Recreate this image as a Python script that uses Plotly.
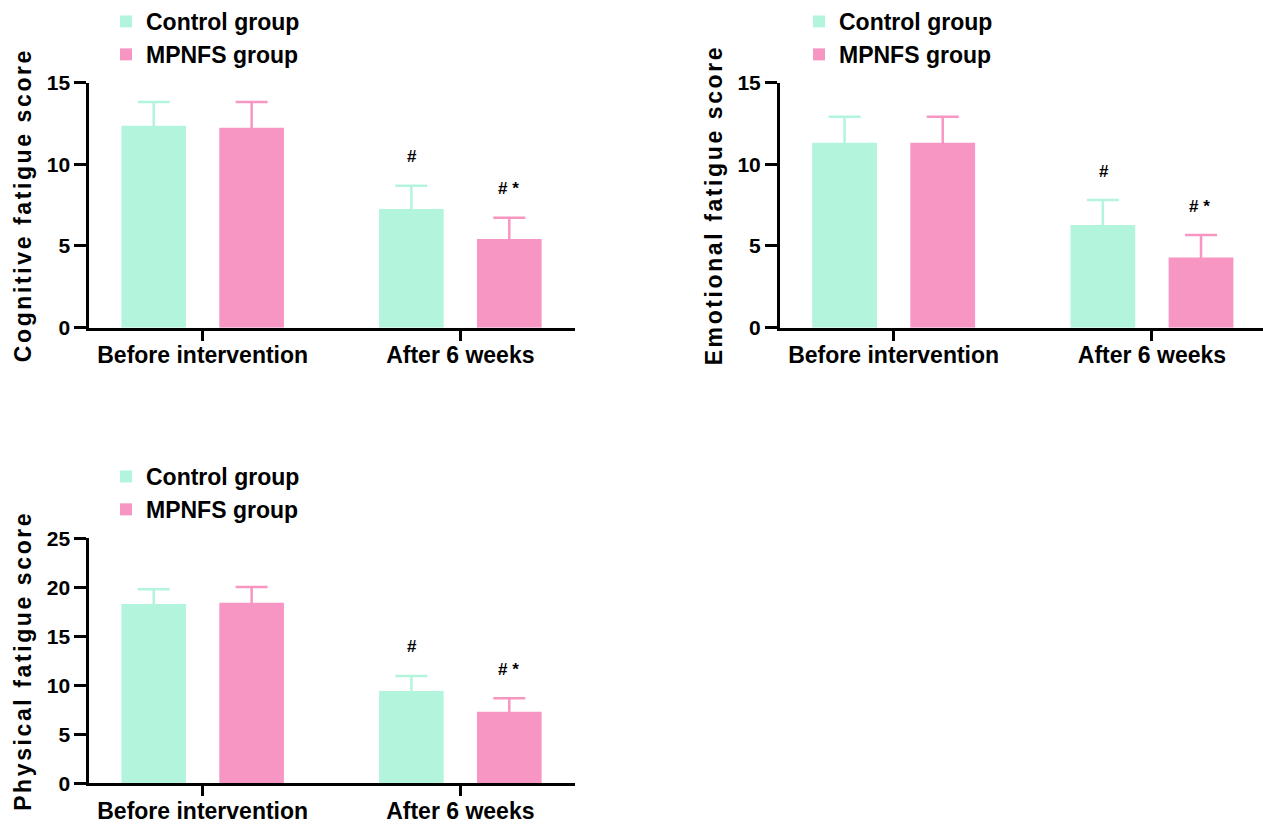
import plotly.graph_objects as go

categories = ["Before intervention", "After 6 weeks"]
groups = ["Control group", "MPNFS group"]

cognitive_control = [12.35, 7.26]
cognitive_control_sd = [1.46, 1.42]
cognitive_mpnfs = [12.23, 5.42]
cognitive_mpnfs_sd = [1.58, 1.30]

emotional_control = [11.31, 6.28]
emotional_control_sd = [1.59, 1.53]
emotional_mpnfs = [11.31, 4.30]
emotional_mpnfs_sd = [1.59, 1.37]

physical_control = [18.30, 9.42]
physical_control_sd = [1.50, 1.53]
physical_mpnfs = [18.43, 7.31]
physical_mpnfs_sd = [1.60, 1.36]

sig_control = ["", "#"]
sig_mpnfs = ["", "# *"]

y_titles = ["Cognitive fatigue score", "Emotional fatigue score", "Physical fatigue score"]
y_ranges = [[0, 15], [0, 15], [0, 25]]

C_COLOR = "#b3f5dc"
M_COLOR = "#f796c3"
FONT = "Liberation Sans, Arial, sans-serif"

panels = [
    (cognitive_control, cognitive_control_sd, cognitive_mpnfs, cognitive_mpnfs_sd),
    (emotional_control, emotional_control_sd, emotional_mpnfs, emotional_mpnfs_sd),
    (physical_control, physical_control_sd, physical_mpnfs, physical_mpnfs_sd),
]

W, H = 1263, 825
x_domains = [[89.3 / W, 575 / W], [780 / W, 1.0], [89.3 / W, 575 / W]]
x_ranges = [[-0.44, 1.445], [-0.44, 1.43], [-0.44, 1.445]]
y_domains = [[1 - 327.7 / H, 1 - 82.5 / H], [1 - 327.7 / H, 1 - 82.5 / H], [1 - 783.3 / H, 1 - 538.3 / H]]
legend_pos = [(106 / W, 1.0), (799 / W, 1.0), (106 / W, 1 - 455 / H)]
# error bars start slightly inside the bar so the lower cap is hidden in the bar
hidden_minus = [0.15, 0.15]

fig = go.Figure()
annotations = []
layout_extra = {}
for i, (cv, cs, mv, ms) in enumerate(panels):
    n = i + 1
    xa = "x" if n == 1 else f"x{n}"
    ya = "y" if n == 1 else f"y{n}"
    lg = "legend" if n == 1 else f"legend{n}"
    fig.add_trace(go.Bar(
        x=categories, y=cv, name=groups[0], xaxis=xa, yaxis=ya, legend=lg,
        marker=dict(color=C_COLOR, line=dict(width=0)),
        error_y=dict(type="data", array=cs, symmetric=False, arrayminus=hidden_minus,
                     color=C_COLOR, thickness=2.5, width=16),
        offsetgroup="c",
    ))
    fig.add_trace(go.Bar(
        x=categories, y=mv, name=groups[1], xaxis=xa, yaxis=ya, legend=lg,
        marker=dict(color=M_COLOR, line=dict(width=0)),
        error_y=dict(type="data", array=ms, symmetric=False, arrayminus=hidden_minus,
                     color=M_COLOR, thickness=2.5, width=16),
        offsetgroup="m",
    ))
    axis_common = dict(
        showline=True, linecolor="black", linewidth=3,
        ticks="outside", tickwidth=3, ticklen=12, tickcolor="black",
        showgrid=False, zeroline=False, automargin=False,
        tickfont=dict(family=FONT, size=21, color="black", weight="bold"),
    )
    layout_extra["xaxis" if n == 1 else f"xaxis{n}"] = dict(
        axis_common, domain=x_domains[i], anchor=ya, range=x_ranges[i], ticklen=10,
        ticklabelstandoff=-5,
        type="category", tickfont=dict(family=FONT, size=23, color="black", weight="bold"),
    )
    layout_extra["yaxis" if n == 1 else f"yaxis{n}"] = dict(
        axis_common, domain=y_domains[i], anchor=xa, range=y_ranges[i], dtick=5,
        title=dict(text=f'<span style="letter-spacing:2.6px">{y_titles[i]}</span>',
                   font=dict(family=FONT, size=23, color="black", weight="bold"), standoff=9),
    )
    layout_extra[lg] = dict(
        x=legend_pos[i][0], y=legend_pos[i][1], xanchor="left", yanchor="top",
        font=dict(family=FONT, size=23, color="black", weight="bold"),
        bgcolor="rgba(0,0,0,0)", itemwidth=30, tracegroupgap=0,
    )
    for j, cat in enumerate(categories):
        if sig_control[j]:
            annotations.append(dict(x=cat, y=cv[j] + cs[j], xref=xa, yref=ya, text=sig_control[j],
                                    showarrow=False, yshift=29, xshift=-48,
                                    font=dict(family=FONT, size=17, color="black", weight="bold")))
        if sig_mpnfs[j]:
            annotations.append(dict(x=cat, y=mv[j] + ms[j], xref=xa, yref=ya, text=sig_mpnfs[j],
                                    showarrow=False, yshift=29, xshift=48,
                                    font=dict(family=FONT, size=17, color="black", weight="bold")))

fig.update_layout(
    template="none",
    width=W, height=H, autosize=False,
    margin=dict(l=0, r=0, t=0, b=0, pad=0),
    paper_bgcolor="white", plot_bgcolor="white",
    barmode="group", bargap=0.24, bargroupgap=0.34,
    showlegend=True,
    annotations=annotations,
    **layout_extra,
)

fig.write_html("out.html", config={"displayModeBar": False},
               post_script="document.body.style.margin='0';")
